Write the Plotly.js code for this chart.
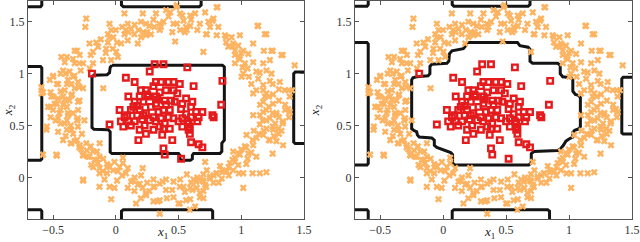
<!DOCTYPE html>
<html>
<head>
<meta charset="utf-8">
<script src="https://cdn.plot.ly/plotly-3.0.1.min.js"></script>
<style>html,body{margin:0;padding:0;background:#fff;}#chart{width:640px;height:242px;}</style>
</head>
<body>
<div id="chart"></div>
<script>
// ---- class 2 (orange crosses) ----
var orangeX = [0.08,-0.05,-0.21,-0.31,-0.39,-0.42,-0.50,-0.29,
0.24,0.32,0.40,0.48,0.53,0.46,0.35,0.22,0.56,0.67,0.72,0.77,0.81,
0.88,0.93,0.98,1.01,1.06,1.13,1.20,1.18,1.25,1.33,1.12,1.20,1.25,1.30,1.38,1.38,
1.28,1.20,1.17,1.25,1.33,1.14,1.09,1.22,1.30,1.35,1.25,
1.04,0.98,0.93,0.90,0.85,0.80,0.75,0.69,0.64,0.98,1.09,1.20,1.12,1.04,
0.51,0.40,0.30,0.19,0.14,0.24,0.35,0.46,0.56,0.61,0.67,0.72,0.35,0.30,0.51,0.59,0.67,0.08,0.03,-0.02,0.01,-0.05,-0.13,-0.26,
-0.07,-0.13,-0.15,-0.21,-0.23,-0.29,-0.31,-0.34,-0.39,-0.44,-0.26,-0.47,-0.18,-0.13,-0.07,-0.36,
-0.47,-0.50,-0.52,-0.44,-0.39,-0.42,-0.37,-0.34,-0.31,-0.39,-0.47,-0.39,-0.44,-0.34,-0.29,-0.52,-0.55,-0.29,-0.10,-0.58,-0.58,
-0.236,-0.243,-0.050,-0.037,-0.063,0.069,0.215,0.095,0.122,0.069,0.148,0.095,0.042,0.267,0.307,0.347,0.280,0.241,0.175,0.201,
-0.156,-0.142,-0.182,-0.063,-0.024,0.003,0.016,-0.077,-0.328,-0.288,-0.341,-0.434,-0.407,-0.328,-0.261,-0.182,-0.208,-0.102,-0.037,
-0.368,-0.500,-0.526,-0.460,-0.381,-0.354,-0.301,-0.261,-0.407,-0.328,-0.513,-0.460,-0.407,-0.354,-0.301,-0.593,-0.593,-0.487,-0.540,
0.487,0.434,0.513,0.540,0.487,0.593,0.632,0.593,0.513,0.566,0.712,0.804,0.738,0.778,0.751,0.817,0.725,0.804,0.870,0.923,0.989,0.936,0.976,0.897,
0.473,0.698,1.016,1.056,0.950,0.989,0.950,1.029,1.095,1.135,1.188,1.095,1.175,1.241,1.320,1.228,1.201,1.241,1.148,1.016,1.003,1.135,1.307,1.175,1.228,
1.095,1.175,1.188,1.254,1.347,1.405,1.386,1.175,1.254,1.373,1.426,
-0.500,-0.381,-0.302,-0.460,-0.407,-0.302,-0.354,-0.553,-0.420,-0.354,-0.328,-0.288,-0.235,-0.129,-0.474,-0.275,-0.261,-0.222,-0.182,-0.169,-0.143,-0.129,-0.195,-0.103,-0.063,-0.011,0.016,0.056,0.095,0.214,
-0.261,-0.090,-0.011,-0.037,0.122,0.175,0.214,0.095,0.148,0.267,0.307,0.334,0.161,0.241,0.373,0.201,0.056,
1.095,1.175,1.228,1.280,1.333,1.386,1.148,1.201,1.254,1.294,1.175,1.122,1.042,1.228,1.280,1.333,1.095,1.029,1.056,0.989,0.936,0.950,0.910,0.976,0.884,0.936,1.016,1.148,
0.831,0.804,0.751,0.844,0.698,0.672,0.725,0.619,0.566,0.513,0.460,0.540,0.593,0.645,0.712,0.778,0.698,0.593,0.500,0.632,0.698,1.016,0.712,0.407,
-0.45,-0.42,-0.38,-0.48,-0.35,-0.44,-0.52,-0.30,-0.40,-0.46,-0.36,-0.27,-0.25,-0.33,-0.28,-0.40,
-0.12,-0.02,0.00,0.05,0.10,0.15,-0.08,-0.20,0.01,0.18,0.20,0.25,0.30,0.38,0.42,0.36,0.45,0.55,0.60,0.65,
1.20,1.25,1.30,1.22,1.15,1.27,1.18,1.32,1.10,1.26,1.15,1.35,1.30,1.22,1.08,1.12,1.05,1.00,0.95,0.88,
0.30,0.35,0.40,0.45,0.55,0.60,0.65,0.70,0.78,0.85,0.90,0.82,0.25,0.20,0.15,0.05,-0.05,-0.10,-0.20,-0.15,0.95,1.05,1.00,1.08];
var orangeY = [1.42,1.35,1.29,1.22,1.16,1.03,0.97,1.10,
1.48,1.58,1.61,1.64,1.56,1.48,1.42,1.40,1.45,1.48,1.38,1.51,1.64,
1.35,1.26,1.16,1.06,0.97,1.46,1.38,1.22,1.22,1.18,0.84,0.81,0.90,0.74,0.84,0.58,
0.62,0.65,0.55,0.49,0.52,0.42,0.36,0.36,0.42,0.65,0.23,
0.29,0.23,0.17,0.10,0.07,0.04,0.01,-0.03,-0.04,0.04,0.04,0.05,0.20,0.13,
-0.09,-0.12,-0.09,-0.06,-0.03,-0.15,-0.22,-0.19,-0.22,-0.12,-0.15,-0.09,-0.35,-0.23,-0.25,-0.31,-0.19,0.04,0.10,0.07,-0.03,-0.09,-0.09,-0.03,
0.13,0.20,0.17,0.20,0.26,0.29,0.36,0.42,0.46,0.52,0.21,0.21,0.10,0.04,0.04,0.33,
0.71,0.78,0.68,0.65,0.68,0.78,0.74,0.62,0.55,0.55,0.90,0.90,1.00,0.97,0.87,0.58,0.49,0.74,0.86,0.82,0.22,
1.53,1.45,1.48,1.42,1.38,1.58,1.58,1.48,1.43,1.38,1.38,1.32,1.29,1.46,1.45,1.48,1.38,1.37,1.29,1.35,
1.30,1.26,1.21,1.30,1.24,1.21,1.16,1.24,1.22,1.18,1.14,1.16,1.11,1.10,1.10,1.10,1.05,1.13,1.13,
1.02,0.98,0.94,0.90,0.94,0.90,0.92,0.86,0.84,0.86,0.78,0.76,0.75,0.79,0.73,0.87,0.81,0.71,0.68,
1.66,1.59,1.58,1.51,1.48,1.56,1.58,1.46,1.42,1.42,1.59,1.64,1.50,1.53,1.45,1.45,1.38,1.37,1.37,1.35,1.37,1.29,1.27,1.26,
1.31,1.21,1.22,1.19,1.18,1.14,1.10,1.10,1.29,1.46,1.38,1.11,1.10,1.22,1.18,1.13,1.03,1.00,1.01,1.00,0.97,0.95,0.92,0.89,0.93,
0.81,0.84,0.78,0.80,0.84,0.84,0.78,0.73,0.71,0.66,1.08,
0.65,0.62,0.57,0.57,0.52,0.49,0.46,0.46,0.36,0.33,0.35,0.31,0.33,0.33,0.22,0.27,0.22,0.20,0.25,0.17,0.14,0.09,0.12,0.06,0.11,0.15,0.06,0.14,0.09,0.09,
-0.02,-0.02,-0.10,-0.21,-0.04,-0.07,-0.10,-0.10,-0.13,-0.13,-0.09,-0.23,-0.25,-0.17,-0.04,0.02,0.19,
0.60,0.63,0.57,0.60,0.54,0.63,0.51,0.47,0.46,0.47,0.41,0.38,0.41,0.36,0.35,0.31,0.31,0.30,0.23,0.22,0.25,0.19,0.14,0.12,0.06,0.07,0.04,0.04,
0.11,0.04,-0.01,-0.01,0.03,-0.02,0.07,-0.02,0.03,-0.02,-0.04,-0.09,-0.10,-0.10,-0.07,-0.05,-0.13,-0.21,-0.25,-0.28,-0.20,-0.10,0.15,-0.20,
0.62,0.70,0.60,0.55,0.80,0.83,0.82,0.65,0.40,0.44,0.50,0.42,0.55,0.98,1.03,1.00,
1.33,1.35,1.42,1.45,1.40,1.47,1.20,1.18,1.30,1.42,1.50,1.40,1.52,1.50,1.55,1.45,1.40,1.40,1.52,1.42,
0.55,0.62,0.58,0.68,0.60,0.52,0.45,0.45,0.45,0.40,0.70,0.70,0.85,0.78,0.90,1.02,1.05,1.20,1.22,1.30,
-0.02,-0.06,-0.02,-0.12,-0.14,-0.05,0.00,-0.04,0.02,0.05,0.02,-0.05,-0.05,-0.20,0.00,0.02,0.10,0.18,0.30,0.25,0.15,0.18,0.27,0.24];

// ---- class 1 (red squares) ----
var redX = [-0.19,0.31,0.38,0.27,0.57,0.08,0.15,0.32,0.36,0.42,0.46,0.51,0.62,0.85,0.30,0.24,0.20,0.35,0.40,0.46,0.49,
0.10,0.19,0.26,0.32,0.39,0.44,0.56,0.15,0.22,0.32,0.40,0.47,0.53,0.60,0.84,0.03,0.12,0.19,0.24,0.38,0.43,0.64,
0.07,0.17,0.22,0.30,0.36,0.46,0.53,0.60,0.66,0.77,0.78,0.69,0.04,0.10,0.15,0.32,0.39,0.57,0.65,-0.05,
0.06,0.12,0.23,0.35,0.43,0.53,0.59,0.19,0.30,0.38,0.24,0.37,0.59,0.18,0.45,0.60,0.66,0.69,0.38,0.39,0.52,
0.28,0.52,0.56,0.17,0.34,0.50,0.42,0.61,0.27,0.14,0.25,0.33,0.58,0.58,0.09,0.21];
var redY = [1.00,1.09,1.09,1.02,1.06,0.96,0.92,0.92,0.92,0.92,0.92,0.90,0.88,0.93,0.88,0.84,0.84,0.82,0.84,0.84,0.81,
0.78,0.78,0.78,0.78,0.74,0.74,0.76,0.73,0.73,0.71,0.70,0.73,0.71,0.68,0.70,0.65,0.65,0.65,0.62,0.65,0.65,0.63,
0.58,0.60,0.60,0.58,0.57,0.57,0.57,0.58,0.58,0.60,0.58,0.63,0.54,0.54,0.54,0.54,0.52,0.54,0.54,0.51,
0.49,0.50,0.50,0.49,0.47,0.49,0.49,0.46,0.46,0.47,0.42,0.41,0.42,0.36,0.36,0.34,0.32,0.29,0.28,0.22,0.18,
0.68,0.66,0.61,0.69,0.63,0.54,0.58,0.73,0.55,0.68,0.80,0.75,0.52,0.46,0.60,0.56];

// ---- decision boundaries, left panel (segments separated by null) ----
var boundLx = [-0.75,-0.60,-0.59,-0.59,null,
0.045,0.045,0.06,0.665,0.68,0.68,null,
-0.75,-0.60,-0.59,-0.59,-0.60,-0.75,null,
1.55,1.43,1.418,1.418,1.43,1.55,null,
-0.75,-0.60,-0.59,-0.59,null,
0.045,0.045,0.06,0.76,0.772,0.772,null,
-0.03,0.85,0.865,0.865,0.855,0.845,0.845,0.83,0.62,0.61,0.61,0.595,0.525,0.51,0.51,0.50,-0.03,-0.045,-0.045,-0.06,-0.175,-0.19,-0.19,-0.175,-0.07,-0.05,-0.045,-0.03];
var boundLy = [1.645,1.645,1.66,1.75,null,
1.75,1.66,1.645,1.645,1.66,1.75,null,
1.07,1.07,1.055,0.18,0.167,0.167,null,
1.016,1.016,1.0,0.34,0.327,0.327,null,
-0.31,-0.31,-0.325,-0.45,null,
-0.45,-0.325,-0.31,-0.31,-0.325,-0.45,null,
1.08,1.08,1.065,0.36,0.345,0.33,0.25,0.23,0.23,0.215,0.18,0.165,0.165,0.18,0.215,0.23,0.23,0.245,0.44,0.46,0.465,0.48,0.97,0.985,0.99,1.01,1.06,1.08];

// ---- decision boundaries, right panel ----
var boundRx = [-0.75,-0.605,-0.595,-0.595,null,
0.072,0.072,0.085,0.675,0.69,0.69,null,
-0.75,-0.605,-0.595,-0.595,-0.605,-0.75,null,
1.55,1.43,1.419,1.419,1.43,1.55,null,
-0.75,-0.605,-0.595,-0.595,null,
0.072,0.072,0.085,0.83,0.845,0.845,null,
0.19,0.59,0.61,0.675,0.69,0.69,0.71,0.91,0.93,0.93,0.95,1.015,1.03,1.03,1.05,1.075,1.09,1.09,1.08,1.045,1.03,1.03,1.00,0.975,0.955,0.935,0.91,0.72,0.70,0.70,0.68,0.09,0.075,0.075,0.06,0.035,0.00,-0.05,-0.07,-0.07,-0.09,-0.19,-0.205,-0.21,-0.235,-0.25,-0.25,-0.24,-0.21,-0.12,-0.105,-0.105,-0.09,0.03,0.045,0.05,0.07,0.16,0.18,0.19];
var boundRy = [1.65,1.65,1.665,1.75,null,
1.75,1.665,1.65,1.65,1.665,1.75,null,
1.30,1.30,1.285,0.135,0.119,0.119,null,
0.965,0.965,0.95,0.43,0.418,0.418,null,
-0.31,-0.31,-0.325,-0.45,null,
-0.45,-0.325,-0.31,-0.31,-0.325,-0.45,null,
1.30,1.30,1.27,1.255,1.235,1.12,1.10,1.10,1.08,1.00,0.97,0.96,0.94,0.83,0.80,0.79,0.77,0.49,0.47,0.455,0.435,0.39,0.37,0.35,0.31,0.28,0.26,0.25,0.23,0.14,0.12,0.12,0.14,0.22,0.24,0.25,0.27,0.29,0.31,0.36,0.38,0.39,0.41,0.44,0.455,0.47,0.94,0.96,0.97,0.98,1.00,1.07,1.09,1.10,1.12,1.19,1.22,1.24,1.27,1.30];

var xTicks = [-0.5, 0, 0.5, 1, 1.5];
var xTickText = ['\u22120.5', '0', '0.5', '1', '1.5'];
var yTicks = [0, 0.5, 1, 1.5];
var yTickText = ['0', '0.5', '1', '1.5'];
var xTitle = '<i>x</i><sub>1</sub>';
var yTitle = '<i>x</i><sub>2</sub>';

var orange = '#FDB462', red = '#E41A1C', black = '#141414';
function panel(bx, by, xa, ya) {
  return [
    {x: bx, y: by, xaxis: xa, yaxis: ya, type: 'scatter', mode: 'lines',
     line: {color: black, width: 3}, hoverinfo: 'skip', connectgaps: false},
    {x: orangeX, y: orangeY, xaxis: xa, yaxis: ya, type: 'scatter', mode: 'markers',
     marker: {symbol: 'x', size: 6.3, color: orange, line: {width: 0}}},
    {x: redX, y: redY, xaxis: xa, yaxis: ya, type: 'scatter', mode: 'markers',
     marker: {symbol: 'square-open', size: 5.5, color: red, line: {color: red, width: 2.4}}}
  ];
}
var data = panel(boundLx, boundLy, 'x', 'y').concat(panel(boundRx, boundRy, 'x2', 'y2'));

var serif = 'Liberation Serif';
var tickFont = {family: serif, size: 12, color: '#333'};
var titleFont = {family: serif, size: 13, color: '#222'};
function xax(dom, anchor) {
  return {domain: dom, anchor: anchor, range: [-0.7, 1.5], tickvals: xTicks, ticktext: xTickText,
    ticks: 'inside', ticklen: 4, tickcolor: '#555', showline: true, linecolor: '#555', linewidth: 1,
    mirror: 'ticks', showgrid: false, zeroline: false, tickfont: tickFont, automargin: false};
}
function yax(anchor) {
  return {domain: [0.095, 0.996], anchor: anchor, range: [-0.4, 1.7], tickvals: yTicks, ticktext: yTickText,
    ticks: 'inside', ticklen: 4, tickcolor: '#555', showline: true, linecolor: '#555', linewidth: 1,
    mirror: 'ticks', showgrid: false, zeroline: false, tickfont: tickFont, automargin: false,
    title: {text: yTitle, font: titleFont}};
}
var layout = {
  width: 640, height: 242, margin: {l: 0, r: 0, t: 0, b: 0},
  paper_bgcolor: '#fff', plot_bgcolor: '#fff', showlegend: false,
  xaxis: xax([0.04375, 0.475], 'y'),
  yaxis: yax('x'),
  xaxis2: xax([0.5547, 0.9875], 'y2'),
  yaxis2: yax('x2'),
  annotations: [
    {text: xTitle, xref: 'x domain', yref: 'paper', x: 0.5, y: 0, xanchor: 'center', yanchor: 'bottom', yshift: -1, xshift: -4, showarrow: false, font: titleFont},
    {text: xTitle, xref: 'x2 domain', yref: 'paper', x: 0.5, y: 0, xanchor: 'center', yanchor: 'bottom', yshift: -1, xshift: -4, showarrow: false, font: titleFont}
  ]
};
Plotly.newPlot('chart', data, layout, {staticPlot: true, displayModeBar: false});
</script>
</body>
</html>
